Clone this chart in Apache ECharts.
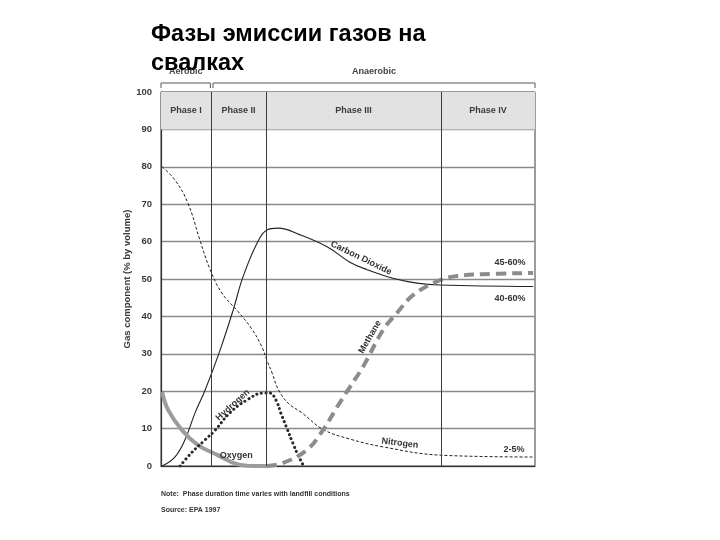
<!DOCTYPE html>
<html><head><meta charset="utf-8">
<script src="https://cdn.jsdelivr.net/npm/echarts@6/dist/echarts.min.js"></script>
<style>html,body{margin:0;padding:0;background:#fff}#c{width:720px;height:540px}</style>
</head><body><div id="c"></div>
<script>
// ---- data ----
const titleText = 'Фазы эмиссии газов на\nсвалках';
const phaseBounds = [0, 13.4, 28.1, 74.9, 100];
const phaseNames = ['Phase I', 'Phase II', 'Phase III', 'Phase IV'];
const carbonDioxide = [[0.3,0],[3.7,2.4],[6.4,7],[9.1,14.2],[11.8,20.3],[15.8,31],[19.3,41.7],[21.9,50.5],[25.7,59.6],[28.3,63.1],[31.3,63.6],[37.2,61.8],[44.4,58.6],[50.5,54.5],[55.1,52.5],[62.0,50.2],[68.4,48.9],[74.6,48.4],[99.5,48.0]];
const nitrogen = [[0.3,80],[3.7,76.5],[7.2,70.3],[10.4,60.4],[13.1,52.6],[16.3,46.2],[20.6,41.3],[24.3,36.6],[27.0,31.8],[28.3,28.3],[29.7,24.9],[31.3,20.6],[34.0,16.8],[37.7,14.2],[43.3,9.8],[50.5,7.2],[59.4,5.1],[74.6,2.9],[99.5,2.4]];
const oxygen = [[0.3,19.8],[1.9,15],[5.6,9.6],[9.9,5.6],[15.2,2.9],[20.3,0.5],[25,0],[28.3,0]];
const hydrogen = [[5.1,0],[8.3,3.7],[11.8,7],[14.4,9.5],[18.4,14.2],[22.9,17.6],[27.3,19.5],[29.1,19.5],[30.8,17.5],[32.1,14],[33.7,10],[35.3,6],[36.6,3],[38.0,0.3]];
const methane = [[28.3,0],[32.6,0.8],[39.0,4.3],[43.3,9.6],[47.1,15.8],[50.5,21.1],[54.0,26.5],[59.4,36.4],[63.1,40.9],[67.4,45.7],[74.6,49.7],[79.1,50.8],[86.1,51.3],[99.5,51.6]];
const curveLabels = [
  {text:'Carbon Dioxide', x:53.5, y:55.6, rot:-26},
  {text:'Methane', x:55.9, y:34.5, rot:60},
  {text:'Hydrogen', x:19.2, y:16.3, rot:42},
  {text:'Oxygen', x:20.1, y:2.9, rot:0},
  {text:'Nitrogen', x:63.9, y:6.1, rot:-7},
  {text:'45-60%', x:93.3, y:54.5, rot:0},
  {text:'40-60%', x:93.3, y:44.9, rot:0},
  {text:'2-5%', x:94.4, y:4.5, rot:0}
];
const groups = [{text:'Aerobic', from:0, to:13.2}, {text:'Anaerobic', from:13.9, to:100}];

// ---- chart ----
const chart = echarts.init(document.getElementById('c'));
const txtFont = {fontFamily:'Liberation Sans, Arial, sans-serif', fontWeight:'bold', fontSize:9, color:'#3a3a3a'};

const helper = {
  type:'line', data:[], silent:true,
  markArea:{
    silent:true,
    itemStyle:{color:'#e2e2e2'},
    label:{show:true, position:'inside', ...txtFont},
    data: phaseNames.map((n,i)=>[{name:n, xAxis:phaseBounds[i], yAxis:90},{xAxis:phaseBounds[i+1], yAxis:100}])
  },
  markLine:{
    silent:true, symbol:'none', label:{show:false},
    lineStyle:{color:'#3c3c3c', width:1, type:'solid'},
    data: phaseBounds.slice(1,4).map(v=>({xAxis:v}))
  }
};

function lineSeries(name, data, ls){
  return {name, type:'line', data, smooth:0.4, showSymbol:false, symbol:'none', lineStyle:ls, z:3};
}

chart.setOption({
  animation:false,
  backgroundColor:'#fff',
  title:{text:titleText, left:151, top:20, padding:0, textStyle:{fontFamily:'Liberation Sans, Arial, sans-serif', fontWeight:'bold', fontSize:23.5, color:'#000', lineHeight:29}, z:10},
  grid:{left:161, right:185, top:92, bottom:74, show:true, borderColor:'#3c3c3c', borderWidth:1, backgroundColor:'#fff'},
  xAxis:{type:'value', min:0, max:100, axisLine:{show:true, lineStyle:{color:'#333', width:1.2}}, axisTick:{show:false}, axisLabel:{show:false}, splitLine:{show:false}},
  yAxis:{type:'value', min:0, max:100, interval:10,
    name:'Gas component (% by volume)', nameLocation:'middle', nameGap:29, nameMoveOverlap:false,
    nameTextStyle:{...txtFont, fontSize:9.5},
    axisLine:{show:true, lineStyle:{color:'#333', width:1.2}}, axisTick:{show:false},
    axisLabel:{...txtFont, fontSize:9.5, margin:9},
    splitLine:{show:true, lineStyle:{color:'#8a8a8a', width:1.3}}},
  series:[
    helper,
    lineSeries('Nitrogen', nitrogen, {color:'#222', width:1, type:[3,2]}),
    lineSeries('Carbon Dioxide', carbonDioxide, {color:'#222', width:1.1, type:'solid'}),
    lineSeries('Oxygen', oxygen, {color:'#9c9c9c', width:4, type:'solid'}),
    lineSeries('Hydrogen', hydrogen, {color:'#2a2a2a', width:3, type:[0.1,4.5], cap:'round'}),
    lineSeries('Methane', methane, {color:'#8c8c8c', width:4, type:[10,6]})
  ]
});

const g = [];
curveLabels.forEach(l=>{
  const p = chart.convertToPixel({gridIndex:0}, [l.x, l.y]);
  g.push({type:'text', x:p[0], y:p[1], rotation:l.rot*Math.PI/180, z:20,
    style:{text:l.text, align:'center', verticalAlign:'middle', font:'bold 9px "Liberation Sans", Arial, sans-serif', fill:'#333'}});
});
const topY = chart.convertToPixel({gridIndex:0}, [0,100])[1];
groups.forEach(gr=>{
  const x1 = chart.convertToPixel({gridIndex:0}, [gr.from,0])[0];
  const x2 = chart.convertToPixel({gridIndex:0}, [gr.to,0])[0];
  g.push({type:'polyline', z:5, shape:{points:[[x1,topY-4],[x1,topY-9],[x2,topY-9],[x2,topY-4]]}, style:{stroke:'#555', lineWidth:1, fill:null}});
  g.push({type:'text', x:(x1+x2)/2, y:topY-20, z:5, style:{text:gr.text, align:'center', verticalAlign:'middle', font:'bold 9px "Liberation Sans", Arial, sans-serif', fill:'#444'}});
});
const leftX = chart.convertToPixel({gridIndex:0}, [0,0])[0];
const botY = chart.convertToPixel({gridIndex:0}, [0,0])[1];
g.push({type:'text', x:leftX, y:botY+28, style:{text:'Note:  Phase duration time varies with landfill conditions', align:'left', verticalAlign:'middle', font:'bold 7px "Liberation Sans", Arial, sans-serif', fill:'#333'}});
g.push({type:'text', x:leftX, y:botY+44, style:{text:'Source: EPA 1997', align:'left', verticalAlign:'middle', font:'bold 7px "Liberation Sans", Arial, sans-serif', fill:'#333'}});
chart.setOption({graphic:g});
</script>
</body></html>
